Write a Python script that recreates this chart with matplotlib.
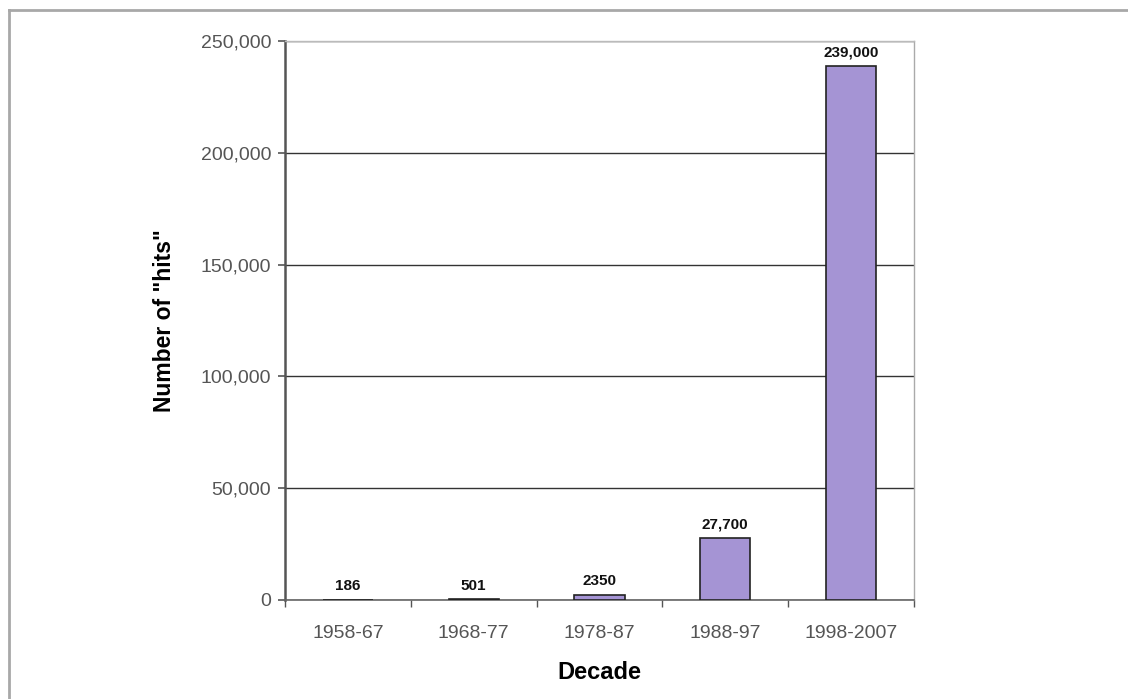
import numpy as np
import matplotlib.pyplot as plt
from matplotlib.ticker import FuncFormatter
from matplotlib.lines import Line2D

decades = ["1958-67", "1968-77", "1978-87", "1988-97", "1998-2007"]
hits = [186, 501, 2350, 27700, 239000]
bar_labels = ["186", "501", "2350", "27,700", "239,000"]
y_ticks = [0, 50000, 100000, 150000, 200000, 250000]

plt.rcParams['font.family'] = ['Liberation Sans', 'DejaVu Sans']

fig = plt.figure(figsize=(11.28, 6.99), dpi=100)
W, H = 1128, 699
# plot area in pixels: left 285, right 914, top 41, bottom 600
ax = fig.add_axes([285 / W, 1 - 600 / H, (914 - 285) / W, (600 - 41) / H])

# outer frame (left and top only)
fig.add_artist(Line2D([9 / W, 9 / W], [0, 1 - 10 / H], color='#a8a8a8', lw=2))
fig.add_artist(Line2D([9 / W, 1], [1 - 10 / H, 1 - 10 / H], color='#a8a8a8', lw=2))

x = np.arange(len(decades))
ax.bar(x, hits, width=0.4, color='#a594d4', edgecolor='#222222', linewidth=1.2, zorder=3)

for xi, v, lab in zip(x, hits, bar_labels):
    ax.text(xi, v + 2800, lab, ha='center', va='bottom', fontsize=11,
            fontweight='bold', color='#111111', zorder=4)

ax.set_xlim(-0.5, len(decades) - 0.5)
ax.set_ylim(0, 250000)
ax.set_yticks(y_ticks)
ax.yaxis.set_major_formatter(FuncFormatter(lambda v, p: f"{int(v):,}"))
ax.set_xticks(x)
ax.set_xticklabels(decades)
ax.set_xticks(np.arange(len(decades) + 1) - 0.5, minor=True)
ax.tick_params(axis='x', which='major', length=0, labelsize=14, labelcolor='#555555', pad=18)
ax.tick_params(axis='x', which='minor', length=5, direction='out', color='#555555', width=1)
ax.tick_params(axis='y', length=5, direction='out', color='#555555', width=1.2,
               labelsize=14, labelcolor='#555555', pad=5)

ax.grid(axis='y', color='#333333', linewidth=1, zorder=0)
ax.set_axisbelow(True)

ax.spines['left'].set_color('#555555')
ax.spines['left'].set_linewidth(1.8)
ax.spines['bottom'].set_color('#666666')
ax.spines['bottom'].set_linewidth(1.2)
ax.spines['top'].set_color('#bbbbbb')
ax.spines['top'].set_linewidth(1)
ax.spines['right'].set_color('#aaaaaa')
ax.spines['right'].set_linewidth(1)

ax.set_ylabel('Number of "hits"', fontsize=16.5, fontweight='bold', labelpad=18)
ax.set_xlabel('Decade', fontsize=17, fontweight='bold', labelpad=14)

fig.savefig('out.png', dpi=100)
